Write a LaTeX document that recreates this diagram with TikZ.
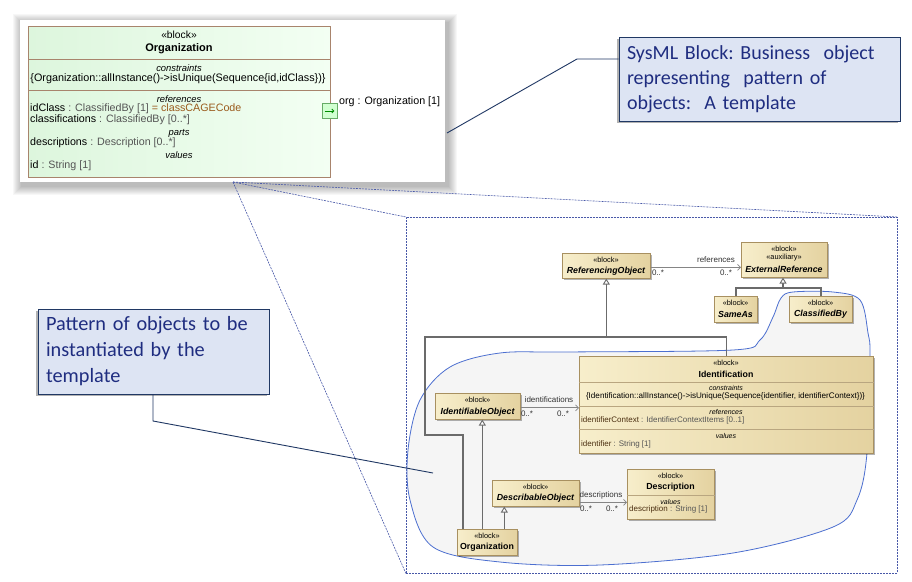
\documentclass[tikz,border=0pt]{standalone}
\usepackage{fontspec}
\setmainfont{Liberation Sans}
\newfontfamily\calfont{Carlito}
\usetikzlibrary{arrows.meta,shadows,calc}
\definecolor{blkB}{HTML}{A89060}
\definecolor{blkL}{HTML}{F7EECB}
\definecolor{blkR}{HTML}{E4D2A0}
\definecolor{glc}{HTML}{6B6B6B}
\definecolor{alc}{HTML}{858585}
\definecolor{blobc}{HTML}{4C6FD0}
\definecolor{blobfill}{HTML}{F5F5F5}
\definecolor{dashc}{HTML}{4858A8}
\definecolor{calfill}{HTML}{DDE4F3}
\definecolor{calbord}{HTML}{203864}
\definecolor{caltext}{HTML}{1F2D80}
\definecolor{grnL}{HTML}{DDF6DD}
\definecolor{grnR}{HTML}{F3FFF3}
\definecolor{orgB}{HTML}{A8846C}
\definecolor{typ}{HTML}{555555}
\definecolor{brn}{HTML}{9A5A1C}
\definecolor{nmc}{HTML}{4A2E10}
\definecolor{lblc}{HTML}{333333}
\begin{document}
\begin{tikzpicture}[x=1pt,y=-1pt,
  blk/.style={draw=blkB, line width=0.6pt, left color=blkL, right color=blkR, anchor=north west, inner sep=0,
     drop shadow={shadow xshift=1.5pt, shadow yshift=-1.5pt, opacity=0.3, fill=black}},
  st/.style={font=\fontsize{7.4}{8}\selectfont, inner sep=0},
  nmi/.style={font=\fontsize{8.8}{9}\selectfont\bfseries\itshape, inner sep=0},
  nmb/.style={font=\fontsize{8.8}{9}\selectfont\bfseries, inner sep=0},
  cmp/.style={font=\fontsize{7}{8}\selectfont\itshape, inner sep=0},
  att/.style={font=\fontsize{8}{9}\selectfont, inner sep=0, anchor=west},
  lbl/.style={font=\fontsize{8}{9}\selectfont, inner sep=0, text=lblc},
  gen/.style={draw=glc, line width=1.6pt},
  genarr/.style={gen, -{Triangle[width=7pt,length=6pt,fill=white,line width=0.9pt]}},
  assoc/.style={draw=alc, line width=0.8pt, -{Straight Barb[length=3pt,width=6pt,line width=0.7pt]}},
  sepl/.style={draw=blkB!80, line width=0.5pt},
  tst/.style={font=\fontsize{10.3}{11}\selectfont, inner sep=0},
  tnm/.style={font=\fontsize{11}{12}\selectfont\bfseries, inner sep=0},
  tcmp/.style={font=\fontsize{9.4}{10}\selectfont\itshape, inner sep=0},
  tatt/.style={font=\fontsize{10.7}{11}\selectfont, inner sep=0, anchor=west},
  callout/.style={draw=calbord, line width=1pt, fill=calfill, inner xsep=8pt, inner ysep=0, align=left,
     text=caltext,
     drop shadow={shadow xshift=-2pt, shadow yshift=-2pt, opacity=0.3, fill=black}},
  callline/.style={draw=calbord, line width=0.9pt},
  zoomline/.style={draw=dashc, line width=0.6pt, dash pattern=on 2pt off 1pt}
]
\useasboundingbox (0,0) rectangle (912,581);
\fill[white] (0,0) rectangle (912,581);

% soft shadow of the screenshot
\foreach \i in {1,...,9}
  \fill[black, opacity=0.03] ({22-\i},{23-\i}) rectangle ({448+\i},{186+\i});
\node[fill=white, anchor=north west, minimum width=425, minimum height=162, inner sep=0] (shot) at (20,20) {};

% zoom lines and frame
\coordinate (zc) at (233,182);
\node[zoomline, anchor=north west, minimum width=491, minimum height=356, inner sep=0] (frame) at (406,217) {};
\draw[zoomline] (zc) -- (frame.north west);
\draw[zoomline] (zc) -- (frame.north east);
\draw[zoomline] (zc) -- (frame.south west);

% blob
\filldraw[fill=blobfill, draw=blobc, line width=0.8pt] plot[smooth cycle, tension=0.55] coordinates {
 (793,292) (833,292) (860,300) (868,333) (870,357) (867,453) (857,500) (833,527)
 (733,553) (600,565) (500,562) (433,547) (410,500) (408,450) (420,400) (450,367)
 (500,353) (567,352) (733,350) (760,340) (773,317) (781,298)};

% top Organization block
\node[draw=orgB, line width=1.2pt, left color=grnL, right color=grnR, anchor=north west,
  minimum width=302, minimum height=151, inner sep=0] (org) at (28,26) {};
\draw[draw=orgB, line width=0.9pt] ($(org.north west)+(0,33)$) -- ($(org.north east)+(0,33)$);
\draw[draw=orgB, line width=0.9pt] ($(org.north west)+(0,64)$) -- ($(org.north east)+(0,64)$);
\node[tst] (org-s) at (179,35) {«block»};
\node[tnm] (org-n) at (179,49) {Organization};
\node[tcmp] (org-c) at (179,68) {constraints};
\node[tst, font=\fontsize{10.8}{11}\selectfont] (org-ct) at (178,78.5) {\{Organization::allInstance()->isUnique(Sequence\{id,idClass\})\}};
\node[tcmp] (org-r) at (179,99) {references};
\node[tatt] (org-a1) at (30,109) {idClass\textcolor{typ}{\ : ClassifiedBy [1]}\textcolor{brn}{\ = classCAGECode}};
\node[tatt] (org-a2) at (30,120) {classifications\textcolor{typ}{\ : ClassifiedBy [0..*]}};
\node[tcmp] (org-p) at (179,133) {parts};
\node[tatt] (org-a3) at (30,143) {descriptions\textcolor{typ}{\ : Description [0..*]}};
\node[tcmp] (org-v) at (179,155) {values};
\node[tatt] (org-a4) at (30,166) {id\textcolor{typ}{\ : String [1]}};
\node[draw=green!45!black!60, fill=green!18, line width=0.7pt, minimum size=15, inner sep=0] (port) at (329.5,111) {};
\draw[draw=green!55!black, line width=0.8pt, -{Straight Barb[length=2pt,width=4pt]}] ($(port.west)+(3,0)$) -- ($(port.east)+(-3,0)$);
\node[tatt] (portl) at (339,102) {org : Organization [1]};

% lower blocks
\node[blk, minimum width=88, minimum height=25] (ro) at (562,253) {};
\node[st] (ro-s) at (606,260) {«block»};
\node[nmi] (ro-n) at (606,271) {ReferencingObject};

\node[blk, minimum width=86, minimum height=35] (er) at (741,242) {};
\node[st] (er-s) at (784,249) {«block»};
\node[st] (er-a) at (784,258) {«auxiliary»};
\node[nmi] (er-n) at (784,269) {ExternalReference};

\node[blk, minimum width=43, minimum height=26] (sa) at (714,296) {};
\node[st] (sa-s) at (735.5,303) {«block»};
\node[nmi] (sa-n) at (735.5,314) {SameAs};

\node[blk, minimum width=63, minimum height=26] (cb) at (789,296) {};
\node[st] (cb-s) at (820.5,303) {«block»};
\node[nmi] (cb-n) at (820.5,314) {ClassifiedBy};

\node[blk, minimum width=294, minimum height=97] (ident) at (579,356) {};
\draw[sepl] ($(ident.north west)+(0,26)$) -- ($(ident.north east)+(0,26)$);
\draw[sepl] ($(ident.north west)+(0,50)$) -- ($(ident.north east)+(0,50)$);
\draw[sepl] ($(ident.north west)+(0,73)$) -- ($(ident.north east)+(0,73)$);
\node[st] (id-s) at (726,363) {«block»};
\node[nmb] (id-n) at (726,374) {Identification};
\node[cmp] (id-c) at (726,388) {constraints};
\node[st, font=\fontsize{8.1}{9}\selectfont] (id-ct) at (725.5,396.5) {\{Identification::allInstance()->isUnique(Sequence\{identifier, identifierContext\})\}};
\node[cmp] (id-r) at (726,412) {references};
\node[att] (id-a1) at (581,420) {\textcolor{nmc}{identifierContext}\textcolor{typ}{\ : IdentifierContextItems [0..1]}};
\node[cmp] (id-v) at (726,436) {values};
\node[att] (id-a2) at (581,444) {\textcolor{nmc}{identifier}\textcolor{typ}{\ : String [1]}};

\node[blk, minimum width=85, minimum height=26] (io) at (435,393) {};
\node[st] (io-s) at (477.5,400) {«block»};
\node[nmi] (io-n) at (477.5,412) {IdentifiableObject};

\node[blk, minimum width=87, minimum height=26] (dob) at (492,480) {};
\node[st] (dob-s) at (535.5,487) {«block»};
\node[nmi] (dob-n) at (535.5,498) {DescribableObject};

\node[blk, minimum width=87, minimum height=50] (desc) at (627,469) {};
\draw[sepl] ($(desc.north west)+(0,26)$) -- ($(desc.north east)+(0,26)$);
\node[st] (de-s) at (670.5,476) {«block»};
\node[nmb] (de-n) at (670.5,487) {Description};
\node[cmp] (de-v) at (670.5,502) {values};
\node[att] (de-a) at (629,509.5) {\textcolor{nmc}{description}\textcolor{typ}{\ : String [1]}};

\node[blk, minimum width=60, minimum height=26] (org2) at (457,529) {};
\node[st] (o2-s) at (487,536) {«block»};
\node[nmb] (o2-n) at (487,547) {Organization};

% connectors
\draw[assoc] ([yshift=-1.5pt]ro.east) -- ([yshift=-1.5pt]ro.east -| er.west);
\node[lbl] (l-ref) at (716,260) {references};
\node[lbl] (l-ref1) at (658,273) {0..*};
\node[lbl] (l-ref2) at (726,273) {0..*};

\coordinate (ej) at (783,288);
\draw[gen] (sa.north) |- (ej) -| (cb.north);
\draw[genarr] (ej) -- (ej |- er.south);

\coordinate (g1) at (425,337);
\coordinate (g2) at (463,435);
\draw[gen] (ident.north) |- (g1) |- (g2) -- (g2 |- org2.north);
\draw[genarr] (ro.south |- g1) -- (ro.south);

\draw[genarr] ([xshift=-5pt]org2.north) -- ([xshift=-5pt]org2.north |- io.south);
\draw[genarr] ([xshift=17pt]org2.north) -- ([xshift=17pt]org2.north |- dob.south);

\draw[assoc] ([yshift=-1.5pt]io.east) -- ([yshift=-1.5pt]io.east -| ident.west);
\node[lbl] (l-idf) at (549,400) {identifications};
\node[lbl] (l-idf1) at (527,413.5) {0..*};
\node[lbl] (l-idf2) at (563,413.5) {0..*};

\draw[assoc] ([yshift=-9pt]dob.east) -- ([yshift=-9pt]dob.east -| desc.west);
\node[lbl] (l-des) at (601,495) {descriptions};
\node[lbl] (l-des1) at (586,508.5) {0..*};
\node[lbl] (l-des2) at (612,508.5) {0..*};

% callouts
\node[callout, minimum width=281, minimum height=84, text width=265,
  font=\calfont\fontsize{20}{25}\selectfont\frenchspacing] (c1) at (759.5,79)
  {SysML Block: Business\ \ object\\representing\ \ pattern of\\objects:\ \ A template};
\coordinate (k1) at (577,59);
\coordinate (k2) at (447,133);
\draw[callline] (k2) -- (k1) -- (k1 -| c1.west);

\node[callout, minimum width=231, minimum height=85, text width=215,
  font=\calfont\fontsize{20.3}{26}\selectfont\frenchspacing] (c2) at (153.5,351.5)
  {Pattern of objects to be\\instantiated by the\\template};
\coordinate (k3) at (153,421);
\coordinate (k4) at (433,473);
\draw[callline] (k3 |- c2.south) -- (k3) -- (k4);
\end{tikzpicture}
\end{document}
